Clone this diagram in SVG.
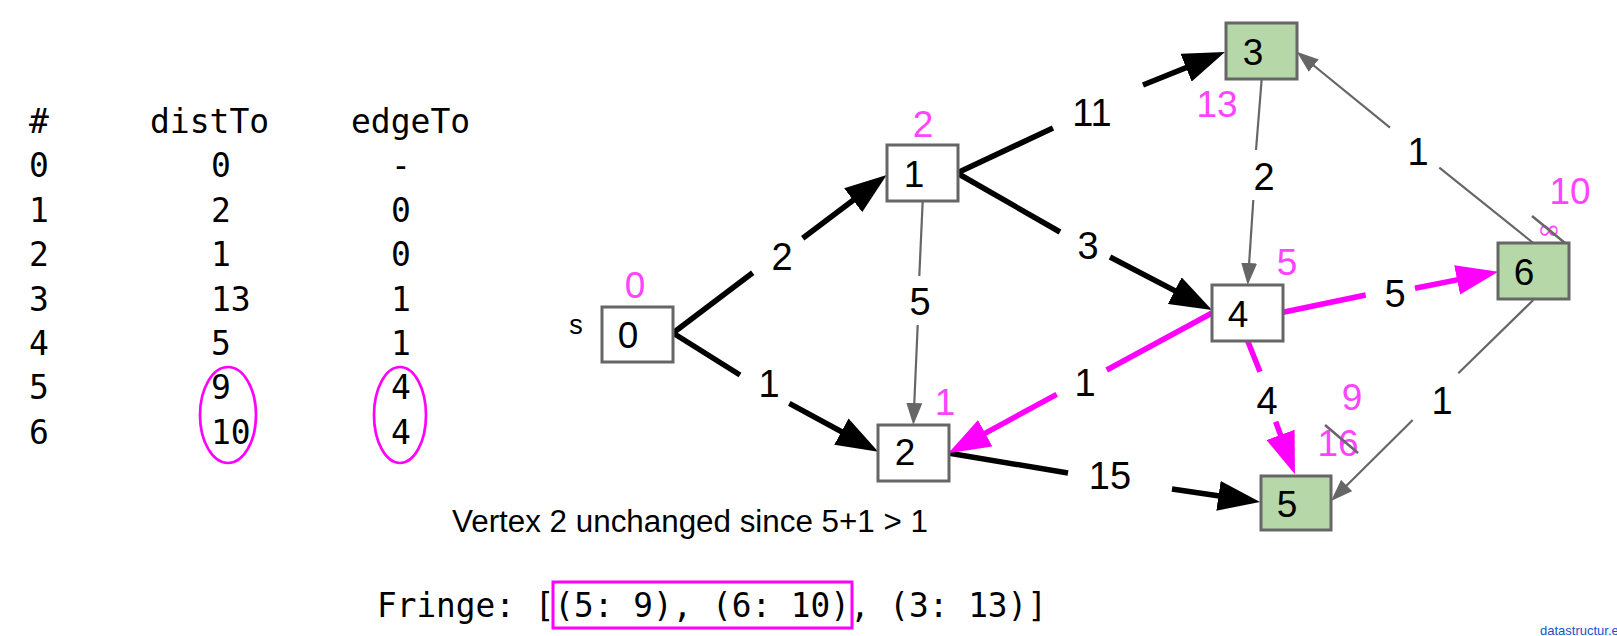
<svg xmlns="http://www.w3.org/2000/svg" width="1617" height="636" viewBox="0 0 1617 636">
<style>
.mono{font-family:"DejaVu Sans Mono","Liberation Mono",monospace;fill:#000}
.tbl{font-size:33px}
.node rect{stroke:#666;stroke-width:3}
.white{fill:#fff}
.green{fill:#b6d7a8}
.nl{font-family:"Liberation Sans",Arial,sans-serif;font-size:37px;text-anchor:middle;fill:#000}
.el{font-family:"Liberation Sans",Arial,sans-serif;font-size:38px;text-anchor:middle;fill:#000}
.pl{font-family:"Liberation Sans",Arial,sans-serif;font-size:37px;text-anchor:middle;fill:#ff44ff}
.blk{stroke:#000;stroke-width:5.5;fill:none}
.mag{stroke:#ff00ff;stroke-width:5.5;fill:none}
.gry{stroke:#666;stroke-width:2.2;fill:none}
.strike{stroke:#666;stroke-width:2.5}
</style>
<defs>
<marker id="ab" markerUnits="userSpaceOnUse" markerWidth="42" markerHeight="30" refX="27" refY="15" orient="auto"><path d="M0,0 L42,15 L0,30 z" fill="#000"/></marker>
<marker id="am" markerUnits="userSpaceOnUse" markerWidth="42" markerHeight="30" refX="27" refY="15" orient="auto"><path d="M0,0 L42,15 L0,30 z" fill="#ff00ff"/></marker>
<marker id="ag" markerUnits="userSpaceOnUse" markerWidth="22" markerHeight="16" refX="16" refY="8" orient="auto"><path d="M0,0 L22,8 L0,16 z" fill="#666"/></marker>
</defs>

<g id="table">
<text class="mono tbl" x="29" y="133">#</text>
<text class="mono tbl" x="150" y="133">distTo</text>
<text class="mono tbl" x="351" y="133">edgeTo</text>
<text class="mono tbl" x="29" y="177">0</text><text class="mono tbl" x="211" y="177">0</text><text class="mono tbl" x="391" y="177">-</text>
<text class="mono tbl" x="29" y="222">1</text><text class="mono tbl" x="211" y="222">2</text><text class="mono tbl" x="391" y="222">0</text>
<text class="mono tbl" x="29" y="266">2</text><text class="mono tbl" x="211" y="266">1</text><text class="mono tbl" x="391" y="266">0</text>
<text class="mono tbl" x="29" y="311">3</text><text class="mono tbl" x="211" y="311">13</text><text class="mono tbl" x="391" y="311">1</text>
<text class="mono tbl" x="29" y="355">4</text><text class="mono tbl" x="211" y="355">5</text><text class="mono tbl" x="391" y="355">1</text>
<text class="mono tbl" x="29" y="399">5</text><text class="mono tbl" x="211" y="399">9</text><text class="mono tbl" x="391" y="399">4</text>
<text class="mono tbl" x="29" y="444">6</text><text class="mono tbl" x="211" y="444">10</text><text class="mono tbl" x="391" y="444">4</text>
<ellipse cx="228" cy="415" rx="28" ry="48" fill="none" stroke="#ff00ff" stroke-width="2.7"/>
<ellipse cx="400" cy="415" rx="26" ry="48" fill="none" stroke="#ff00ff" stroke-width="2.7"/>
</g>

<g id="connectors">
<line class="blk" x1="673" y1="333" x2="752.7" y2="272.7"/>
<line class="blk" x1="802.7" y1="238.3" x2="874.7" y2="184" marker-end="url(#ab)"/>
<text class="el" x="782" y="270">2</text>
<line class="blk" x1="673" y1="333" x2="740" y2="375"/>
<line class="blk" x1="789.3" y1="403.3" x2="865.1" y2="444.5" marker-end="url(#ab)"/>
<text class="el" x="769" y="397">1</text>
<line class="gry" x1="922.7" y1="201" x2="919.3" y2="276"/>
<line class="gry" x1="917.7" y1="325" x2="913.6" y2="419" marker-end="url(#ag)"/>
<text class="el" x="920" y="315">5</text>
<line class="blk" x1="957" y1="173" x2="1053" y2="128"/>
<line class="blk" x1="1143" y1="85" x2="1211.1" y2="57.6" marker-end="url(#ab)"/>
<text class="el" x="1092" y="126">11</text>
<line class="blk" x1="957" y1="173" x2="1060" y2="232"/>
<line class="blk" x1="1110" y1="257" x2="1198.7" y2="303.1" marker-end="url(#ab)"/>
<text class="el" x="1088" y="259">3</text>
<line class="blk" x1="948" y1="453" x2="1068" y2="473"/>
<line class="blk" x1="1172" y1="489" x2="1245.2" y2="499.8" marker-end="url(#ab)"/>
<text class="el" x="1110" y="489">15</text>
<line class="gry" x1="1261.7" y1="79" x2="1256" y2="150"/>
<line class="gry" x1="1253.3" y1="200" x2="1248.1" y2="279" marker-end="url(#ag)"/>
<text class="el" x="1264" y="190">2</text>
<line class="gry" x1="1533.3" y1="243" x2="1439.3" y2="167.7"/>
<line class="gry" x1="1390" y1="127.7" x2="1301.4" y2="55.5" marker-end="url(#ag)"/>
<text class="el" x="1418" y="165">1</text>
<line class="mag" x1="1212" y1="313" x2="1106.7" y2="370"/>
<line class="mag" x1="1056.7" y1="394.3" x2="961.5" y2="446.1" marker-end="url(#am)"/>
<text class="el" x="1085" y="396">1</text>
<line class="mag" x1="1283" y1="312.3" x2="1365.7" y2="295"/>
<line class="mag" x1="1415" y1="288.3" x2="1483.6" y2="274.6" marker-end="url(#am)"/>
<text class="el" x="1395" y="307">5</text>
<line class="mag" x1="1247.7" y1="341" x2="1260" y2="371.7"/>
<line class="mag" x1="1275.7" y1="421.7" x2="1289.8" y2="460.2" marker-end="url(#am)"/>
<text class="el" x="1267" y="414">4</text>
<line class="gry" x1="1533.3" y1="300" x2="1458.3" y2="373.3"/>
<line class="gry" x1="1412.7" y1="420" x2="1335.3" y2="496.8" marker-end="url(#ag)"/>
<text class="el" x="1442" y="414">1</text>
</g>

<g id="node0" class="node">
<rect class="white" x="602" y="307" width="71" height="55"/>
<text class="nl" x="628" y="348">0</text>
<text x="576" y="334" font-family="Liberation Sans, Arial, sans-serif" font-size="27" text-anchor="middle">s</text>
<text class="pl" x="635" y="298">0</text>
</g>
<g id="node1" class="node">
<rect class="white" x="887" y="145" width="71" height="56"/>
<text class="nl" x="914" y="187">1</text>
<text class="pl" x="923" y="137">2</text>
</g>
<g id="node2" class="node">
<rect class="white" x="878" y="425" width="71" height="56"/>
<text class="nl" x="905" y="465">2</text>
<text class="pl" x="945" y="415">1</text>
</g>
<g id="node3" class="node">
<rect class="green" x="1226" y="23" width="71" height="56"/>
<text class="nl" x="1253" y="65">3</text>
<text class="pl" x="1217" y="117">13</text>
</g>
<g id="node4" class="node">
<rect class="white" x="1212" y="285" width="71" height="56"/>
<text class="nl" x="1238" y="327">4</text>
<text class="pl" x="1287" y="275">5</text>
</g>
<g id="node5" class="node">
<rect class="green" x="1261" y="476" width="70" height="54"/>
<text class="nl" x="1287" y="517">5</text>
<text class="pl" x="1352" y="410">9</text>
<text class="pl" x="1338" y="456">16</text>
<line class="strike" x1="1325" y1="425" x2="1358" y2="453"/>
</g>
<g id="node6" class="node">
<rect class="green" x="1498" y="243" width="71" height="56"/>
<text class="nl" x="1524" y="285">6</text>
<text class="pl" x="1570" y="204">10</text>
<text x="1549" y="239" font-family="DejaVu Sans, sans-serif" font-size="28" text-anchor="middle" fill="#ff44ff">∞</text>
<line class="strike" x1="1532" y1="216" x2="1565" y2="243"/>
</g>

<text x="452" y="532" font-family="Liberation Sans, Arial, sans-serif" font-size="31" textLength="476" lengthAdjust="spacingAndGlyphs">Vertex 2 unchanged since 5+1 &gt; 1</text>

<g id="fringe">
<text class="mono" x="377" y="617" font-size="33" textLength="670" lengthAdjust="spacingAndGlyphs">Fringe: [(5: 9), (6: 10), (3: 13)]</text>
<rect x="553" y="582" width="299" height="46" fill="none" stroke="#ff00ff" stroke-width="3"/>
</g>

<text x="1540" y="635" font-family="Liberation Sans, Arial, sans-serif" font-size="13" fill="#1155cc">datastructur.es</text>
</svg>
